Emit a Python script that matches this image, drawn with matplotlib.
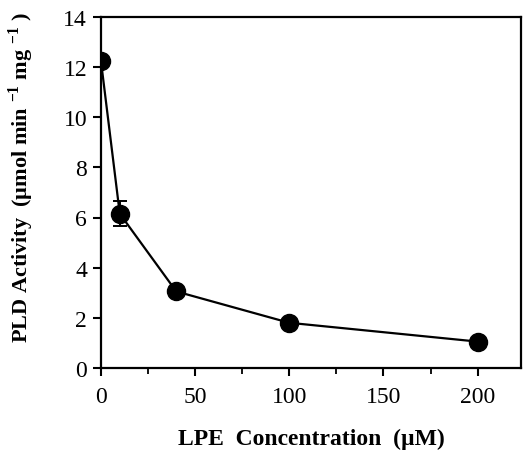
import matplotlib.pyplot as plt
from matplotlib.ticker import MultipleLocator

# LPE concentration (uM) vs PLD activity
conc = [0, 10, 40, 100, 200]
activity = [12.25, 6.15, 3.05, 1.8, 1.05]
err = [0.0, 0.5, 0.0, 0.0, 0.0]

plt.rcParams['font.family'] = ['Liberation Serif', 'DejaVu Serif']
plt.rcParams['mathtext.fontset'] = 'custom'
plt.rcParams['mathtext.rm'] = 'Liberation Serif'
plt.rcParams['mathtext.bf'] = 'Liberation Serif:bold'

fig = plt.figure(figsize=(5.23, 4.6), dpi=100)
ax = fig.add_axes([0.193, 0.198, 0.803, 0.763])

ax.errorbar(conc, activity, yerr=err, color='black', marker='o', markersize=13,
            linewidth=1.6, elinewidth=1.4, capsize=5, capthick=1.4)

ax.set_xlim(0, 223)
ax.set_ylim(0, 14)
ax.xaxis.set_major_locator(MultipleLocator(50))
ax.xaxis.set_minor_locator(MultipleLocator(25))
ax.yaxis.set_major_locator(MultipleLocator(2))

ax.tick_params(axis='both', which='major', direction='out', length=6, width=1.5,
               labelsize=17, pad=4)
ax.tick_params(axis='x', which='minor', direction='out', length=4, width=1.3)
ax.tick_params(axis='x', pad=7)
for s in ax.spines.values():
    s.set_linewidth(1.6)

ax.set_xlabel('LPE  Concentration  (\u00b5M)', fontsize=17, fontweight='bold', labelpad=15)
ax.set_ylabel('PLD Activity  (\u00b5mol min $^{\\mathbf{-1}}$ mg $^{\\mathbf{-1}}$ )',
              fontsize=16, fontweight='bold')
ax.yaxis.set_label_coords(-0.155, 0.545)

fig.savefig('out.png', dpi=100)
